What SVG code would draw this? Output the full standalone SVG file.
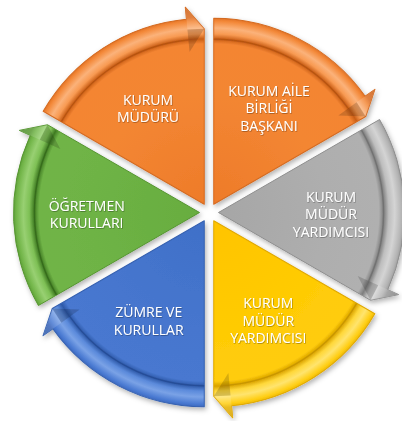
<svg xmlns="http://www.w3.org/2000/svg" xmlns:xlink="http://www.w3.org/1999/xlink" width="402" height="421" viewBox="0 0 402 421">
  <style>
    .seg { stroke-width: 1; stroke-linejoin: round; }
    .edge { fill: none; stroke-width: 1.4; stroke-opacity: 0.55; }
    .hdk { fill: #000000; fill-opacity: 0.16; }
    .hlt { fill: #ffffff; fill-opacity: 0.14; }
    .lbl { font-family: "Open Sans", "Noto Sans", "DejaVu Sans", sans-serif; font-size: 14px; fill: #ffffff; text-anchor: middle; filter: url(#ts); }
  </style>
  <defs>
    <filter id="sh" x="-20%" y="-20%" width="140%" height="140%">
      <feDropShadow dx="1.5" dy="2.5" stdDeviation="2.5" flood-color="#000" flood-opacity="0.3"/>
    </filter>
    <filter id="ts" x="-10%" y="-30%" width="120%" height="160%">
      <feDropShadow dx="0.6" dy="0.8" stdDeviation="0.6" flood-color="#000" flood-opacity="0.35"/>
    </filter>
    <radialGradient id="gOr" gradientUnits="userSpaceOnUse" cx="0" cy="0" r="198">
      <stop offset="0" stop-color="#EE7B2A"/>
      <stop offset="0.55" stop-color="#F38632"/>
      <stop offset="0.81" stop-color="#F48533"/>
      <stop offset="0.835" stop-color="#C95E16"/>
      <stop offset="0.86" stop-color="#F89A52"/>
      <stop offset="0.89" stop-color="#FBB27A"/>
      <stop offset="0.925" stop-color="#F38838"/>
      <stop offset="0.945" stop-color="#DC6C20"/>
      <stop offset="1" stop-color="#C95E16"/>
    </radialGradient>
    <radialGradient id="gGr" gradientUnits="userSpaceOnUse" cx="0" cy="0" r="198">
      <stop offset="0" stop-color="#A6A6A6"/>
      <stop offset="0.55" stop-color="#AEAEAE"/>
      <stop offset="0.81" stop-color="#B0B0B0"/>
      <stop offset="0.835" stop-color="#7E7E7E"/>
      <stop offset="0.86" stop-color="#BEBEBE"/>
      <stop offset="0.89" stop-color="#D4D4D4"/>
      <stop offset="0.925" stop-color="#B4B4B4"/>
      <stop offset="0.945" stop-color="#969696"/>
      <stop offset="1" stop-color="#808080"/>
    </radialGradient>
    <radialGradient id="gYe" gradientUnits="userSpaceOnUse" cx="0" cy="0" r="198">
      <stop offset="0" stop-color="#FFC400"/>
      <stop offset="0.55" stop-color="#FFCB05"/>
      <stop offset="0.81" stop-color="#FFCC0A"/>
      <stop offset="0.835" stop-color="#D9A200"/>
      <stop offset="0.86" stop-color="#FFD83A"/>
      <stop offset="0.89" stop-color="#FFE46E"/>
      <stop offset="0.925" stop-color="#FFCE14"/>
      <stop offset="0.945" stop-color="#E8B200"/>
      <stop offset="1" stop-color="#D09E00"/>
    </radialGradient>
    <radialGradient id="gBl" gradientUnits="userSpaceOnUse" cx="0" cy="0" r="198">
      <stop offset="0" stop-color="#4070C8"/>
      <stop offset="0.55" stop-color="#4676CE"/>
      <stop offset="0.81" stop-color="#4878D0"/>
      <stop offset="0.835" stop-color="#2E59A8"/>
      <stop offset="0.86" stop-color="#5B8ADB"/>
      <stop offset="0.89" stop-color="#7AA2E6"/>
      <stop offset="0.925" stop-color="#4A7AD2"/>
      <stop offset="0.945" stop-color="#3763B8"/>
      <stop offset="1" stop-color="#2D58A6"/>
    </radialGradient>
    <radialGradient id="gGn" gradientUnits="userSpaceOnUse" cx="0" cy="0" r="198">
      <stop offset="0" stop-color="#68AD40"/>
      <stop offset="0.55" stop-color="#6EB345"/>
      <stop offset="0.81" stop-color="#70B447"/>
      <stop offset="0.835" stop-color="#3F7A22"/>
      <stop offset="0.86" stop-color="#7EC055"/>
      <stop offset="0.89" stop-color="#98D072"/>
      <stop offset="0.925" stop-color="#72B549"/>
      <stop offset="0.945" stop-color="#599A33"/>
      <stop offset="1" stop-color="#4B8A2A"/>
    </radialGradient>
  </defs>

  <g id="cycle" filter="url(#sh)">
    <g id="node-kurum-muduru">
      <g transform="translate(204.25,204.27) rotate(-120)">
        <path class="seg" fill="url(#gOr)" stroke="#D46A20" d="M0,0 L161.08,-93 A186,186 0 0 1 169.25,77.13 L180.17,82.11 L151.99,87.75 Z"/>
        <path class="edge" stroke="#A84A0C" d="M142.89,-82.5 A165,165 0 0 1 150.14,68.42"/>
        <path class="hdk" d="M159.7,72.77 L139.22,63.45 L151.99,87.75 Z"/>
        <path class="hlt" d="M159.7,72.77 L180.17,82.11 L151.99,87.75 Z"/>
      </g>
    </g>
    <g id="node-aile-birligi">
      <g transform="translate(213.75,204.27) rotate(-60)">
        <path class="seg" fill="url(#gOr)" stroke="#D46A20" d="M0,0 L161.08,-93 A186,186 0 0 1 169.25,77.13 L180.17,82.11 L151.99,87.75 Z"/>
        <path class="edge" stroke="#A84A0C" d="M142.89,-82.5 A165,165 0 0 1 150.14,68.42"/>
        <path class="hdk" d="M159.7,72.77 L139.22,63.45 L151.99,87.75 Z"/>
        <path class="hlt" d="M159.7,72.77 L180.17,82.11 L151.99,87.75 Z"/>
      </g>
    </g>
    <g id="node-mudur-yrd-1">
      <g transform="translate(218.5,212.5)">
        <path class="seg" fill="url(#gGr)" stroke="#8E8E8E" d="M0,0 L161.08,-93 A186,186 0 0 1 169.25,77.13 L180.17,82.11 L151.99,87.75 Z"/>
        <path class="edge" stroke="#666666" d="M142.89,-82.5 A165,165 0 0 1 150.14,68.42"/>
        <path class="hdk" d="M159.7,72.77 L139.22,63.45 L151.99,87.75 Z"/>
        <path class="hlt" d="M159.7,72.77 L180.17,82.11 L151.99,87.75 Z"/>
      </g>
    </g>
    <g id="node-mudur-yrd-2">
      <g transform="translate(213.75,220.73) rotate(60)">
        <path class="seg" fill="url(#gYe)" stroke="#E0A800" d="M0,0 L161.08,-93 A186,186 0 0 1 169.25,77.13 L180.17,82.11 L151.99,87.75 Z"/>
        <path class="edge" stroke="#B88A00" d="M142.89,-82.5 A165,165 0 0 1 150.14,68.42"/>
        <path class="hdk" d="M159.7,72.77 L139.22,63.45 L151.99,87.75 Z"/>
        <path class="hlt" d="M159.7,72.77 L180.17,82.11 L151.99,87.75 Z"/>
      </g>
    </g>
    <g id="node-zumre">
      <g transform="translate(204.25,220.73) rotate(120)">
        <path class="seg" fill="url(#gBl)" stroke="#3560B0" d="M0,0 L161.08,-93 A186,186 0 0 1 169.25,77.13 L180.17,82.11 L151.99,87.75 Z"/>
        <path class="edge" stroke="#1F4488" d="M142.89,-82.5 A165,165 0 0 1 150.14,68.42"/>
        <path class="hdk" d="M159.7,72.77 L139.22,63.45 L151.99,87.75 Z"/>
        <path class="hlt" d="M159.7,72.77 L180.17,82.11 L151.99,87.75 Z"/>
      </g>
    </g>
    <g id="node-ogretmen">
      <g transform="translate(199.5,212.5) rotate(180)">
        <path class="seg" fill="url(#gGn)" stroke="#559530" d="M0,0 L161.08,-93 A186,186 0 0 1 169.25,77.13 L180.17,82.11 L151.99,87.75 Z"/>
        <path class="edge" stroke="#2E5E16" d="M142.89,-82.5 A165,165 0 0 1 150.14,68.42"/>
        <path class="hdk" d="M159.7,72.77 L139.22,63.45 L151.99,87.75 Z"/>
        <path class="hlt" d="M159.7,72.77 L180.17,82.11 L151.99,87.75 Z"/>
      </g>
    </g>
  </g>

  <g id="labels">
    <text class="lbl" x="148" y="105">KURUM</text>
    <text class="lbl" x="148" y="122">MÜDÜRÜ</text>

    <text class="lbl" x="269" y="96">KURUM AİLE</text>
    <text class="lbl" x="269" y="113.3">BİRLİĞİ</text>
    <text class="lbl" x="269" y="130.6">BAŞKANI</text>

    <text class="lbl" x="331" y="201.7">KURUM</text>
    <text class="lbl" x="331" y="219.2">MÜDÜR</text>
    <text class="lbl" x="331" y="236.7">YARDIMCISI</text>

    <text class="lbl" x="268.3" y="308.3">KURUM</text>
    <text class="lbl" x="268.3" y="325.6">MÜDÜR</text>
    <text class="lbl" x="268.3" y="342.9">YARDIMCISI</text>

    <text class="lbl" x="148.7" y="317.3">ZÜMRE VE</text>
    <text class="lbl" x="148.7" y="335">KURULLAR</text>

    <text class="lbl" x="86.7" y="211">ÖĞRETMEN</text>
    <text class="lbl" x="86.7" y="228.3">KURULLARI</text>
  </g>
</svg>
